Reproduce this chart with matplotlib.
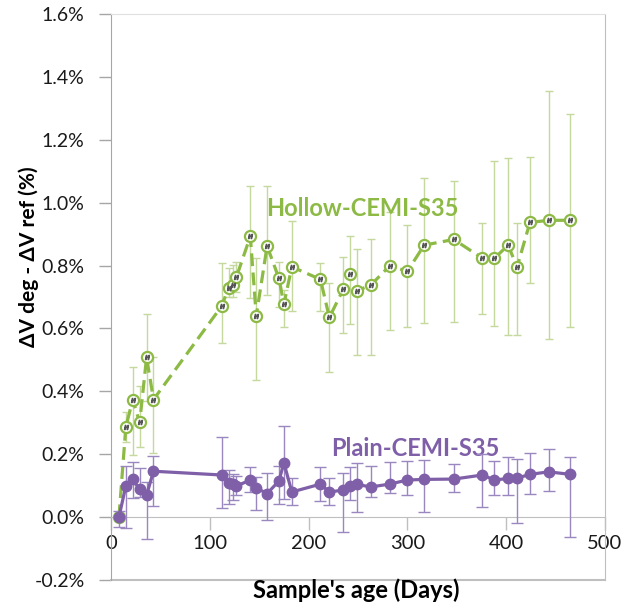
import matplotlib
matplotlib.use('Agg')
import matplotlib.pyplot as plt
from matplotlib.ticker import FuncFormatter, MultipleLocator

plt.rcParams['font.family'] = ['Lato', 'DejaVu Sans']

# sample age (days)
days = [8, 15, 22, 29, 36, 43, 112, 119, 123, 127, 141, 147, 158, 170, 175, 183,
        212, 221, 235, 242, 249, 263, 282, 300, 317, 347, 376, 388, 402, 411,
        424, 443, 465]

# Hollow-CEMI-S35 (%), with top / bottom of the error bars
hollow = [0.0, 0.287, 0.374, 0.301, 0.508, 0.374, 0.671, 0.730, 0.738, 0.764,
          0.893, 0.640, 0.862, 0.759, 0.677, 0.796, 0.756, 0.635, 0.724, 0.773,
          0.720, 0.738, 0.799, 0.782, 0.865, 0.883, 0.823, 0.823, 0.865, 0.795,
          0.937, 0.944, 0.944]
hollow_hi = [0.0, 0.335, 0.478, 0.417, 0.645, 0.51, 0.807, 0.791, 0.801, 0.810,
             1.053, 0.823, 1.052, 0.812, 0.722, 0.941, 0.807, 0.746, 0.828, 0.893,
             0.854, 0.883, 0.970, 0.928, 1.079, 1.068, 0.934, 1.133, 1.141, 0.934,
             1.146, 1.355, 1.282]
hollow_lo = [0.0, 0.239, 0.197, 0.224, 0.37, 0.203, 0.554, 0.700, 0.700, 0.716,
             0.697, 0.436, 0.708, 0.669, 0.605, 0.655, 0.656, 0.460, 0.584, 0.614,
             0.515, 0.517, 0.595, 0.605, 0.616, 0.619, 0.645, 0.608, 0.578, 0.578,
             0.746, 0.567, 0.604]

# Plain-CEMI-S35 (%)
plain = [0.0, 0.099, 0.120, 0.088, 0.070, 0.146, 0.134, 0.109, 0.105, 0.099,
         0.118, 0.093, 0.075, 0.115, 0.173, 0.080, 0.105, 0.080, 0.086, 0.099,
         0.104, 0.096, 0.105, 0.118, 0.120, 0.121, 0.134, 0.118, 0.123, 0.124,
         0.136, 0.144, 0.136]
plain_hi = [0.019, 0.162, 0.176, 0.156, 0.112, 0.194, 0.254, 0.151, 0.138, 0.130,
            0.160, 0.127, 0.141, 0.162, 0.289, 0.123, 0.160, 0.123, 0.139, 0.158,
            0.171, 0.164, 0.175, 0.178, 0.181, 0.169, 0.200, 0.179, 0.190, 0.184,
            0.203, 0.218, 0.192]
plain_lo = [-0.031, -0.035, 0.060, 0.064, -0.068, 0.035, 0.030, 0.041, 0.056, 0.070,
            0.080, 0.023, -0.009, 0.041, 0.057, 0.038, 0.051, 0.038, -0.047, 0.054,
            0.017, 0.063, 0.078, 0.070, 0.017, 0.080, 0.033, 0.070, 0.070, -0.020,
            0.075, 0.084, -0.063]

green = '#8cba45'
purple = '#7f5fa8'

fig = plt.figure(figsize=(6.29, 6.04), dpi=100)
ax = fig.add_axes([0.1765, 0.0397, 0.7853, 0.9371])

h_err = [[v - lo for v, lo in zip(hollow, hollow_lo)],
         [hi - v for v, hi in zip(hollow, hollow_hi)]]
p_err = [[v - lo for v, lo in zip(plain, plain_lo)],
         [hi - v for v, hi in zip(plain, plain_hi)]]

ax.errorbar(days, hollow, yerr=h_err, fmt='none', ecolor='#c5d99e',
            elinewidth=1, capsize=3, capthick=1, zorder=2)
ax.plot(days, hollow, color=green, lw=2.3, dashes=(4, 2), zorder=3)
ax.plot(days, hollow, ls='none', marker='o', ms=8, mfc='white', mec=green,
        mew=1.6, zorder=4)
# tiny labels inside the hollow markers
ax.plot(days[1:], hollow[1:], ls='none', marker='$H$', ms=3,
        color='#555555', zorder=5)

ax.errorbar(days, plain, yerr=p_err, fmt='none', ecolor='#9a87c0',
            elinewidth=1, capsize=4, capthick=1, zorder=5)
ax.plot(days, plain, color=purple, lw=2.3, marker='o', ms=7.5, zorder=6)

ax.text(254, 0.982, 'Hollow-CEMI-S35', color=green, fontsize=17,
        fontweight='bold', ha='center', va='center')
ax.text(308, 0.219, 'Plain-CEMI-S35', color=purple, fontsize=17,
        fontweight='bold', ha='center', va='center')

ax.set_xlim(0, 500)
ax.set_ylim(-0.2, 1.6)
ax.xaxis.set_major_locator(MultipleLocator(100))
ax.yaxis.set_major_locator(MultipleLocator(0.2))
ax.yaxis.set_major_formatter(FuncFormatter(lambda v, p: f'{round(v, 1) + 0:.1f}%'))

ax.spines['bottom'].set_position(('data', 0))
ax.spines['bottom'].set_color('#bfbfbf')
ax.spines['left'].set_color('#a6a6a6')
ax.spines['right'].set_color('#bfbfbf')
ax.spines['top'].set_color('#e0e0e0')
ax.axhline(-0.2, color='#bfbfbf', lw=1.5, clip_on=False)

ax.tick_params(axis='y', direction='out', length=9, width=1, color='#a6a6a6',
               pad=10, labelsize=14, labelcolor='#1a1a1a')
ax.tick_params(axis='x', direction='out', length=9, width=1, color='#bfbfbf',
               pad=4, labelsize=14.5, labelcolor='#1a1a1a')

fig.text(356 / 629, 1 - 590 / 604, "Sample's age (Days)", fontsize=17,
         fontweight='bold', ha='center', va='center')
fig.text(29 / 629, 1 - 257 / 604, 'ΔV deg - ΔV ref (%)', fontsize=15,
         fontweight='bold', ha='center', va='center', rotation=90)

fig.savefig('out.png', dpi=100)
